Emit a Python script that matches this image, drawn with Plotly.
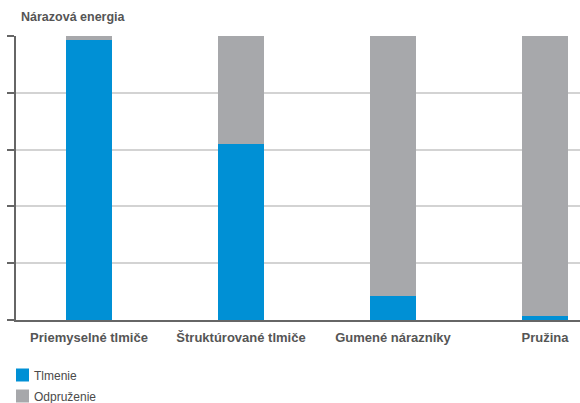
import plotly.graph_objects as go

categories = ["Priemyselné tlmiče", "Štruktúrované tlmiče", "Gumené nárazníky", "Pružina"]
tlmenie = [98.6, 62.0, 8.5, 1.5]
odpruzenie = [1.4, 38.0, 91.5, 98.5]
tick_vals = [0, 20, 40, 60, 80, 100]
series_names = ["Tlmenie", "Odpruženie"]

BLUE = "#0090d5"
GRAY = "#a7a8ab"
FONT = "Liberation Sans, Arial, sans-serif"
colors = [BLUE, GRAY]

fig = go.Figure()
for name, vals, col in zip(series_names, [tlmenie, odpruzenie], colors):
    fig.add_trace(go.Bar(name=name, x=categories, y=vals,
                         marker=dict(color=col, line=dict(width=0)), width=0.3))

W, H = 580, 403
fig.update_layout(
    barmode="stack",
    width=W, height=H,
    margin=dict(l=16, r=0, t=36, b=83, autoexpand=False),
    paper_bgcolor="white", plot_bgcolor="white",
    font=dict(family=FONT, color="#555555", size=12),
    title=dict(text="<b>Nárazová energia</b>", x=21/W, xanchor="left", y=1-17/H, yanchor="middle",
               font=dict(family=FONT, size=12.5, color="#555555")),
    showlegend=False,
    xaxis=dict(range=[-0.48, 3.23], showgrid=False, showline=True, linecolor="#666666", linewidth=2,
               ticks="", ticklabelstandoff=4, automargin=False,
               tickfont=dict(family=FONT, size=13, color="#555555", weight="bold"),
               fixedrange=True),
    yaxis=dict(range=[0, 100], tickvals=tick_vals, showticklabels=False, ticks="outside", ticklen=7,
               tickwidth=2, tickcolor="#666666", showline=True, linecolor="#666666", linewidth=2,
               showgrid=True, gridcolor="#d3d3d3", gridwidth=1.5, zeroline=False, fixedrange=True,
               automargin=False),
)

# manual legend (below the plot)
legend_y = [375, 396]
for name, col, yc in zip(series_names, colors, legend_y):
    fig.add_shape(type="rect", xref="paper", yref="paper",
                  x0=(16 - 16) / 564, x1=(29 - 16) / 564,
                  y0=(320 - (yc + 6.5)) / 284, y1=(320 - (yc - 6.5)) / 284,
                  fillcolor=col, line=dict(width=0))
    fig.add_annotation(text=name, xref="paper", yref="paper", x=(32 - 16) / 564, xanchor="left",
                       y=(320 - yc - 1) / 284, yanchor="middle", showarrow=False,
                       font=dict(family=FONT, size=12, color="#4a4a4a"))

fig.write_html("out.html", config={"displayModeBar": False},
               post_script="document.body.style.margin='0';document.body.style.padding='0';")
